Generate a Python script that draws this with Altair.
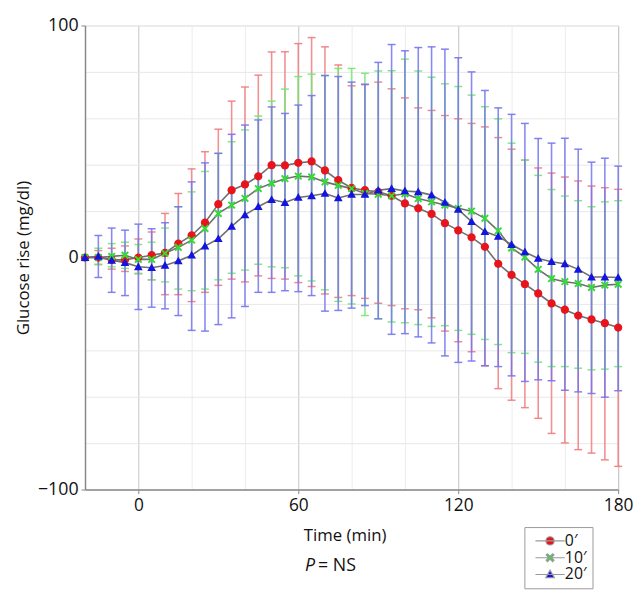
import altair as alt
import pandas as pd

times = [-20, -15, -10, -5, 0, 5, 10, 15, 20, 25, 30, 35, 40, 45, 50, 55, 60, 65, 70, 75,
         80, 85, 90, 95, 100, 105, 110, 115, 120, 125, 130, 135, 140, 145, 150, 155, 160,
         165, 170, 175, 180]

series_names = ["0′", "10′", "20′"]

red_mean = [0, 0, -1, -1, 0, 1, 2, 6, 9.5, 15, 23, 29, 31.5, 35, 39.8, 39.7, 40.8, 41.4, 37.5, 33.3,
            30, 29, 28.3, 26.6, 23.3, 21.2, 18.8, 14.8, 11.7, 8.7, 4.6, -2.7, -7.5, -11.5, -15.5,
            -19.8, -22.5, -25, -26.7, -28.3, -30.2]
red_upper = [0, 3, 4, 5, 8, 11, 19, 27.6, 38.2, 45.6, 55.3, 67.4, 73.5, 78.6, 88.6, 88.7, 92.2, 94.8,
             90.8, 83, 74, 74.5, 75.6, 72.7, 68.8, 64.5, 63.4, 61.2, 59.8, 57.8, 56.3, 51.7, 46.7,
             42, 38.6, 36.4, 34.7, 33, 30.8, 30.1, 29.4]
red_lower = [0, -3, -5, -6, -7, -9.6, -16, -16, -19, -15, -12, -9.3, -10.5, -7.9, -9, -9.3, -10.8,
             -12.5, -15.7, -17.2, -16.4, -17.6, -19.7, -20.7, -22.1, -22.5, -26, -31.7, -36.3,
             -40.6, -46.7, -56.5, -61.5, -64.7, -69.3, -75.8, -79.9, -82.8, -84.3, -87.2, -90]

green_mean = [0, 0, 0.5, 1, -0.8, -0.8, 1.8, 4.4, 7.5, 12.5, 19, 22.6, 25.5, 29.7, 32, 34, 35.1, 34.7,
              32.6, 31.1, 29.7, 27.6, 27.3, 26.6, 27.5, 25.4, 24, 22.6, 21.2, 20, 16.9, 11.5, 4.1,
              0.2, -5.1, -9.1, -10.4, -11.2, -12.9, -11.9, -11.5]
green_upper = [0, 4, 6, 6.6, 5.6, 6.6, 12.7, 21.9, 28.3, 37.1, 44.9, 49.9, 55, 61, 67.4, 72.6, 78, 79,
               78.5, 81.5, 81.5, 79.4, 80.4, 80.5, 85.5, 80.4, 77.7, 74.9, 73.7, 70, 65, 59.8, 49.3,
               42, 35.4, 29.3, 26.5, 24.5, 21.9, 24, 24.5]
green_lower = [0, -3, -4, -4.7, -6.8, -9.6, -10.5, -13.6, -14.3, -13.6, -9.6, -6.8, -5.4, -2.9, -4,
               -4.4, -7.9, -10.1, -13.9, -18.9, -20, -25, -26.4, -27.8, -28.1, -28.9, -29.7, -29.4,
               -31.4, -33.1, -35.3, -37.5, -41, -41.3, -45.1, -47, -47, -47.7, -48.4, -48.1, -47]

blue_mean = [0, 0.5, -1.2, -2.2, -4, -4.4, -3.4, -1.5, 1, 4.9, 8.1, 13.4, 18.4, 21.9, 25, 23.7, 25.9,
             26.6, 27.6, 25.7, 27.2, 27.2, 29, 29.7, 28.7, 28.3, 26.9, 23.8, 20.7, 15.5, 11.2, 9.1,
             5.6, 2.4, -0.4, -1.8, -2.7, -5.1, -8.4, -8.4, -8.6]
blue_upper = [0, 9.5, 12.7, 11.8, 14.4, 12.4, 15, 21.9, 32.6, 40.8, 44.9, 53.1, 57.1, 59.3, 64.9, 62.1,
              65.7, 69.8, 78.4, 78, 75.6, 74.7, 84.1, 91.8, 89.1, 90.5, 90.8, 89.8, 86.1, 80, 72, 64.5,
              61.7, 57.8, 51.3, 49.3, 51.4, 46.7, 41.1, 42.8, 39.4]
blue_lower = [0, -8.6, -15, -16.4, -22.4, -21.4, -22.1, -25, -31.4, -31.7, -28.9, -26, -21.1, -15, -15,
              -14.3, -14.7, -16.4, -23.1, -22.8, -21.8, -20.7, -26.4, -33.1, -32.8, -34.2, -36.8,
              -42.4, -45.2, -44.6, -46.6, -47, -51, -53.4, -52.7, -53.1, -57.2, -57.9, -58.6, -60.2,
              -57.4]

x_grid_values = [-20, -10, 0, 10, 20, 30, 40, 50, 60, 70, 80, 90, 100, 110, 120, 130, 140, 150,
                 160, 170, 180]
y_grid_values = [-100, -90, -80, -70, -60, -50, -40, -30, -20, -10, 0, 10, 20, 30, 40, 50, 60, 70,
                 80, 90, 100]

marker_colors = ["#e8141c", "#2ee02e", "#1414e0"]
bar_colors = ["#f07c80", "#72e872", "#7474ee"]
# composite legend/marker symbols: a horizontal line (stroked in legend only) plus a filled marker
marker_shapes = [
    "M-3.7,0L3.7,0M-1.05,0A1.05,1.05,0,1,1,1.05,0A1.05,1.05,0,1,1,-1.05,0Z",
    "M-3.7,0L3.7,0M-1,-0.65L-0.65,-1L0,-0.35L0.65,-1L1,-0.65L0.35,0L1,0.65L0.65,1L0,0.35L-0.65,1L-1,0.65L-0.35,0Z",
    "M-3.7,0L3.7,0M0,-1.1L1.1,0.85L-1.1,0.85Z",
]

rows = []
for name, m, lo, hi in zip(series_names,
                           [red_mean, green_mean, blue_mean],
                           [red_lower, green_lower, blue_lower],
                           [red_upper, green_upper, blue_upper]):
    for t, a, b, c in zip(times, m, lo, hi):
        rows.append({"time": t, "series": name, "mean": a, "lower": b, "upper": c})
df = pd.DataFrame(rows)

FONT = "Open Sans"

x_enc = alt.X("time:Q", scale=alt.Scale(domain=[-20, 180], nice=False, zero=False),
              axis=alt.Axis(values=x_grid_values, title="Time (min)",
                            labelExpr="datum.value % 60 === 0 ? datum.label : ''",
                            labelOverlap=False,
                            gridColor={"condition": {"test": "datum.value % 60 === 0", "value": "#c4c4c4"},
                                       "value": "#ececec"},
                            tickColor={"condition": {"test": "datum.value % 60 === 0", "value": "#888888"},
                                       "value": "transparent"},
                            tickSize=4, labelPadding=3, labelFontSize=17.5, labelFont=FONT,
                            labelColor="#111", titleFont=FONT, titleFontSize=17,
                            titleFontWeight="normal", titleColor="#111",
                            titleX=263, titleY=47, titleBaseline="middle",
                            domainColor="#888888", domainWidth=1.5, labelFlush=False))

y_axis = alt.Axis(values=y_grid_values, title="Glucose rise (mg/dl)",
                  labelExpr="datum.value % 50 === 0 ? datum.label : ''",
                  labelOverlap=False,
                  gridColor="#e8e8e8",
                  tickColor={"condition": {"test": "datum.value % 50 === 0", "value": "#888888"},
                             "value": "transparent"},
                  tickSize=4, labelPadding=3, labelFontSize=18, labelFont=FONT, labelColor="#111",
                  titleFont=FONT, titleFontSize=17, titleFontWeight="normal", titleColor="#111",
                  titleX=-62, titleBaseline="middle", domainColor="#888888", domainWidth=1.5,
                  labelFlush=False)

y_scale = alt.Scale(domain=[-100, 100], nice=False)

color_scale = alt.Scale(domain=series_names, range=marker_colors)
shape_scale = alt.Scale(domain=series_names, range=marker_shapes)

base = alt.Chart(df)

layers = []
for i, (name, bc) in enumerate(zip(series_names, bar_colors)):
    sub = base.transform_filter(alt.datum.series == name)
    rule = sub.mark_rule(strokeWidth=1.6, color=bc, opacity=0.85).encode(
        x=x_enc if i == 0 else alt.X("time:Q"),
        y=alt.Y("lower:Q", scale=y_scale, axis=y_axis) if i == 0 else alt.Y("lower:Q"),
        y2="upper:Q",
    )
    hi = sub.mark_tick(orient="horizontal", size=8, thickness=1.5, color=bc, opacity=0.9).encode(
        x="time:Q", y="upper:Q")
    lo = sub.mark_tick(orient="horizontal", size=8, thickness=1.5, color=bc, opacity=0.9).encode(
        x="time:Q", y="lower:Q")
    layers += [rule, hi, lo]

lines = base.mark_line(color="#6f6f6f", strokeWidth=1.6).encode(
    x="time:Q", y="mean:Q", detail="series:N",
)

legend = alt.Legend(orient="none", legendX=445, legendY=508, title=None,
                    strokeColor="#999999", fillColor="white", padding=6,
                    labelFont=FONT, labelFontSize=16, labelColor="#111", rowPadding=1,
                    symbolSize=64, symbolStrokeColor="#999999", symbolStrokeWidth=1.1,
                    symbolOffset=12, labelOffset=7)

points = base.mark_point(filled=True, size=64, opacity=1).encode(
    x="time:Q", y="mean:Q",
    color=alt.Color("series:N", scale=color_scale, legend=legend),
    shape=alt.Shape("series:N", scale=shape_scale, legend=legend),
)

ptext = alt.Chart(pd.DataFrame({"t": ["P"]})).mark_text(
    font=FONT, fontSize=18, fontStyle="italic", align="center", baseline="middle", color="#111"
).encode(text="t:N", x=alt.value(228), y=alt.value(547))
nstext = alt.Chart(pd.DataFrame({"t": ["= NS"]})).mark_text(
    font=FONT, fontSize=18, align="left", baseline="middle", color="#111"
).encode(text="t:N", x=alt.value(236), y=alt.value(547))

chart = alt.layer(*layers, lines, points, ptext, nstext).properties(
    width=540, height=470,
    autosize=alt.AutoSizeParams(type="none"),
    padding={"left": 78, "top": 14, "right": 15, "bottom": 98},
).configure_view(stroke="#888888", strokeWidth=1.5).configure(background="white")

chart.save("out.html", embed_options={"renderer": "svg", "actions": False})
